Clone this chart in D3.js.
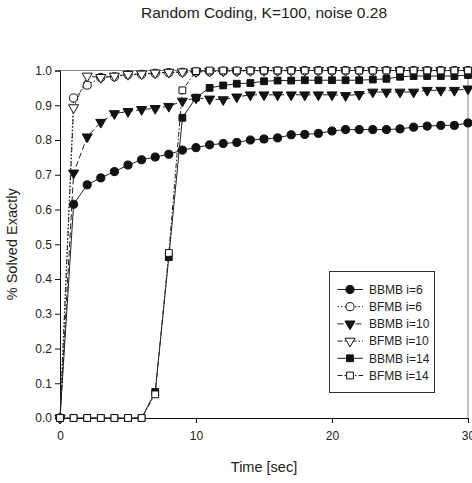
<!DOCTYPE html>
<html>
<head>
<meta charset="utf-8">
<script src="https://cdn.jsdelivr.net/npm/d3@7"></script>
<style>
    html, body { margin: 0; padding: 0; background: #fff; }
    svg { display: block; font-family: "Liberation Sans", Arial, sans-serif; }
</style>
</head>
<body>
<div id="chart"></div>
<script>
/* Random Coding, K=100, noise 0.28 - line chart */

var TIME = [0, 1, 2, 3, 4, 5, 6, 7, 8, 9, 10, 11, 12, 13, 14, 15, 16, 17, 18, 19, 20,
    21, 22, 23, 24, 25, 26, 27, 28, 29, 30];

var BBMB_6 = [0, 0.615, 0.671, 0.691, 0.709, 0.728, 0.743, 0.751, 0.759, 0.771, 0.778,
    0.786, 0.790, 0.793, 0.800, 0.803, 0.806, 0.815, 0.816, 0.819, 0.826,
    0.830, 0.830, 0.830, 0.830, 0.832, 0.837, 0.840, 0.842, 0.842, 0.849];

var BFMB_6 = [0, 0.921, 0.958, 0.980, 0.982, 0.988, 0.989, 0.992, 0.994, 0.995, 0.996,
    0.997, 0.998, 0.998, 0.999, 0.999, 0.999, 1, 1, 1, 1,
    1, 1, 1, 1, 1, 1, 1, 1, 1, 1];

var BBMB_10 = [0, 0.705, 0.809, 0.851, 0.876, 0.882, 0.888, 0.891, 0.897, 0.912, 0.921,
    0.918, 0.916, 0.924, 0.930, 0.930, 0.930, 0.930, 0.930, 0.930, 0.930,
    0.928, 0.931, 0.938, 0.938, 0.938, 0.938, 0.943, 0.943, 0.943, 0.947];

var BFMB_10 = [0, 0.893, 0.984, 0.980, 0.984, 0.989, 0.990, 0.993, 0.995, 0.996, 0.997,
    0.998, 0.999, 0.999, 1, 1, 1, 1, 1, 1, 1,
    1, 1, 1, 1, 1, 1, 1, 1, 1, 1];

var BBMB_14 = [0, 0, 0, 0, 0, 0, 0, 0.075, 0.463, 0.864, 0.922,
    0.950, 0.957, 0.962, 0.964, 0.969, 0.971, 0.971, 0.972, 0.972, 0.972,
    0.972, 0.972, 0.974, 0.976, 0.982, 0.984, 0.984, 0.984, 0.984, 0.987];

var BFMB_14 = [0, 0, 0, 0, 0, 0, 0, 0.068, 0.475, 0.943, 0.998,
    1, 1, 1, 1, 1, 1, 1, 1, 1, 1,
    1, 1, 1, 1, 1, 1, 1, 1, 1, 1];

var SERIES_NAMES = ['BBMB i=6', 'BFMB i=6', 'BBMB i=10', 'BFMB i=10', 'BBMB i=14', 'BFMB i=14'];
var X_TICKS = [0, 10, 20, 30];
var Y_TICKS = [0, 0.1, 0.2, 0.3, 0.4, 0.5, 0.6, 0.7, 0.8, 0.9, 1.0];

// marker + line style per series (same order as SERIES_NAMES)
var STYLES = [
    { shape: 'circle', fill: '#111', dash: null },
    { shape: 'circle', fill: '#fff', dash: '1.5,2' },
    { shape: 'tri', fill: '#111', dash: '6,3' },
    { shape: 'tri', fill: '#fff', dash: '5,2,1.5,2,1.5,2' },
    { shape: 'square', fill: '#111', dash: null },
    { shape: 'square', fill: '#fff', dash: '5,2,1.5,2' }
];

var W = 472, H = 483;
var plotL = 60, plotR = 468, plotT = 70.5, plotB = 418;

var svg = d3.select('#chart').append('svg').attr('width', W).attr('height', H);

var x = d3.scaleLinear().domain([0, 30]).range([plotL, plotR]);
var y = d3.scaleLinear().domain([0, 1]).range([plotB, plotT]);

// Title + axis labels
svg.append('text').attr('x', 264).attr('y', 18)
    .attr('text-anchor', 'middle').attr('font-size', '15.5px').attr('fill', '#222')
    .text('Random Coding, K=100, noise 0.28');

svg.append('text').attr('transform', 'translate(17,' + (plotT + plotB) / 2 + ') rotate(-90)')
    .attr('text-anchor', 'middle').attr('font-size', '14.5px').attr('fill', '#222')
    .text('% Solved Exactly');

svg.append('text').attr('x', 264).attr('y', 472)
    .attr('text-anchor', 'middle').attr('font-size', '14.5px').attr('fill', '#222')
    .text('Time [sec]');

// Frame (top and right sides are grey)
svg.append('line').attr('x1', plotL).attr('x2', plotR).attr('y1', plotT).attr('y2', plotT)
    .attr('stroke', '#888').attr('stroke-width', 1);
svg.append('line').attr('x1', plotR).attr('x2', plotR).attr('y1', plotT).attr('y2', plotB)
    .attr('stroke', '#888').attr('stroke-width', 1);

// Axes
var xAxis = svg.append('g').attr('transform', 'translate(0,' + plotB + ')')
    .call(d3.axisBottom(x).tickValues(X_TICKS).tickSize(5).tickPadding(8).tickFormat(d3.format('d')));
var yAxis = svg.append('g').attr('transform', 'translate(' + plotL + ',0)')
    .call(d3.axisLeft(y).tickValues(Y_TICKS).tickSize(5).tickPadding(3).tickFormat(d3.format('.1f')));

[xAxis, yAxis].forEach(function(g) {
    g.select('.domain').attr('stroke', '#111');
    g.selectAll('.tick line').attr('stroke', '#111');
    g.selectAll('.tick text').attr('font-size', '12px').attr('fill', '#222')
        .attr('font-family', '"Liberation Sans", Arial, sans-serif');
});

// Marker path generator
function markerPath(shape) {
    if (shape === 'circle') return d3.symbol().type(d3.symbolCircle).size(52)();
    if (shape === 'square') return d3.symbol().type(d3.symbolSquare).size(46)();
    return d3.symbol().type(d3.symbolTriangle).size(44)();
}

function drawMarker(g, st, px, py) {
    g.append('path')
        .attr('d', markerPath(st.shape))
        .attr('transform', 'translate(' + px + ',' + py + ')' + (st.shape === 'tri' ? ' rotate(180)' : ''))
        .attr('fill', st.fill)
        .attr('stroke', '#111')
        .attr('stroke-width', 1);
}

var ALL = [BBMB_6, BFMB_6, BBMB_10, BFMB_10, BBMB_14, BFMB_14];

var line = d3.line()
    .x(function(d) { return x(d[0]); })
    .y(function(d) { return y(d[1]); });

var plot = svg.append('g');

ALL.forEach(function(vals, i) {
    var st = STYLES[i];
    var pts = TIME.map(function(t, k) { return [t, vals[k]]; });
    var g = plot.append('g');

    g.append('path').datum(pts)
        .attr('d', line)
        .attr('fill', 'none')
        .attr('stroke', '#222')
        .attr('stroke-width', 1)
        .attr('stroke-dasharray', st.dash);

    pts.forEach(function(p) {
        drawMarker(g, st, x(p[0]), y(p[1]));
    });
});

// Legend
var lg = svg.append('g');
lg.append('rect').attr('x', 329.5).attr('y', 271.5).attr('width', 105).attr('height', 121)
    .attr('fill', '#fff').attr('stroke', '#333').attr('stroke-width', 1);

SERIES_NAMES.forEach(function(name, i) {
    var st = STYLES[i];
    var ly = 289.5 + i * 17.2;
    lg.append('line').attr('x1', 337.5).attr('x2', 363).attr('y1', ly).attr('y2', ly)
        .attr('stroke', '#222').attr('stroke-width', 1)
        .attr('stroke-dasharray', st.dash);
    drawMarker(lg, st, 350, ly);
    lg.append('text').attr('x', 369).attr('y', ly + 4.3)
        .attr('font-size', '12px').attr('fill', '#222')
        .text(name);
});
</script>
</body>
</html>
